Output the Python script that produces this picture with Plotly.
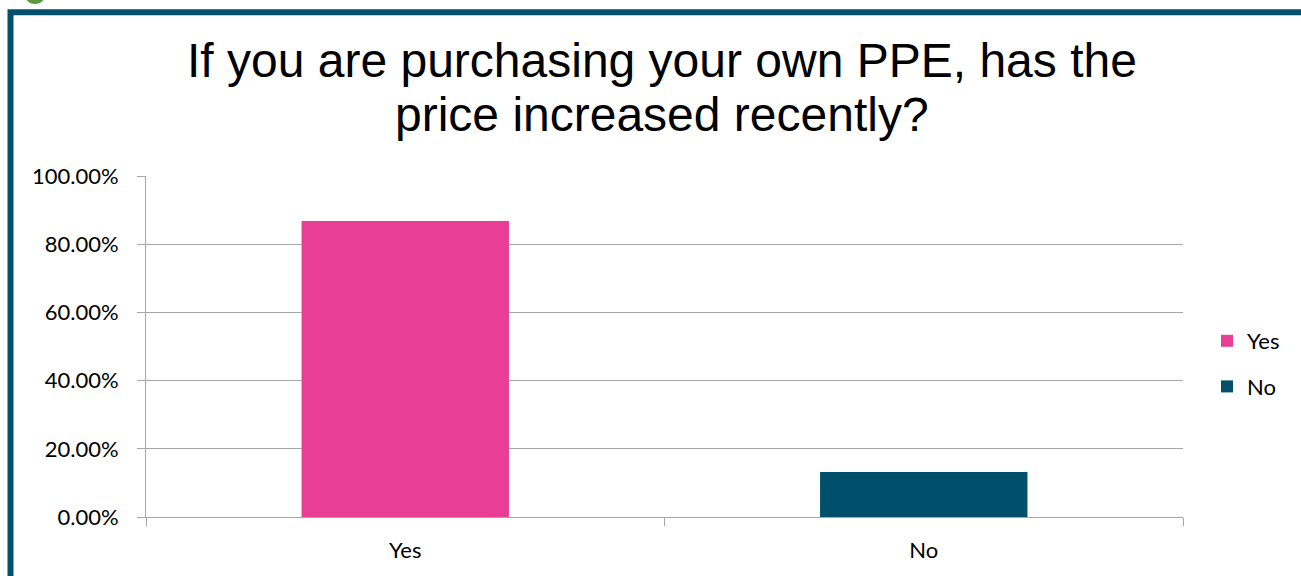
import plotly.graph_objects as go

categories = ["Yes", "No"]
values = [0.8684, 0.1316]
colors = ["#E83E95", "#01506B"]
y_ticks = [0, 0.2, 0.4, 0.6, 0.8, 1.0]
title_lines = ["If you are purchasing your own PPE, has the", "price increased recently?"]

W, H = 1301, 576
L, R, T, B = 146, 1183, 176, 517

def px(x):
    return (x - L) / (R - L)

def py(y):
    return (B - y) / (B - T)

fig = go.Figure()
for c, v, col in zip(categories, values, colors):
    fig.add_trace(go.Bar(x=[c], y=[v], name=c, marker=dict(color=col, line=dict(width=0)),
                         legendgroup=c))

fig.update_layout(
    width=W, height=H,
    margin=dict(l=L, r=W - R, t=T, b=H - B, autoexpand=False),
    paper_bgcolor="white", plot_bgcolor="white",
    barmode="overlay", bargap=0.6,
    font=dict(family="Lato, Liberation Sans", size=22, color="#000000"),
    legend=dict(x=px(1207), xanchor="left", y=py(364), yanchor="middle",
                font=dict(size=22), tracegroupgap=14, bgcolor="rgba(0,0,0,0)"),
    showlegend=True,
)
for line, ypix in zip(title_lines, [60, 115]):
    fig.add_annotation(text=line, xref="paper", yref="paper", x=px(662), y=py(ypix),
                       xanchor="center", yanchor="middle", showarrow=False,
                       font=dict(family="Liberation Sans, Arial", size=48, color="#000000"))

fig.update_yaxes(range=[0, 1], tickvals=y_ticks, tickformat=".2%", showgrid=True,
                 gridcolor="#A6A6A6", gridwidth=1, showline=True, linecolor="#A6A6A6",
                 ticks="outside", ticklen=8, tickcolor="#A6A6A6", zeroline=False,
                 tickfont=dict(size=22), ticklabelstandoff=14, fixedrange=True)
fig.update_xaxes(showline=True, linecolor="#A6A6A6", ticks="outside", ticklen=8,
                 tickcolor="#A6A6A6", tickson="boundaries", tickfont=dict(size=22),
                 ticklabelstandoff=14, showgrid=False, fixedrange=True)

# slide frame
fig.add_shape(type="rect", xref="paper", yref="paper",
              x0=px(10.5), x1=px(1320), y0=py(12.3), y1=py(600),
              line=dict(color="#02506B", width=6), fillcolor="rgba(0,0,0,0)", layer="above")
# green ornament at top-left
fig.add_shape(type="circle", xref="paper", yref="paper",
              x0=px(24), x1=px(46), y0=py(-18), y1=py(4),
              line=dict(width=0), fillcolor="#5C9A3C", layer="above")

fig.write_html("out.html", config={"displayModeBar": False},
               post_script="document.body.style.margin='0';")
